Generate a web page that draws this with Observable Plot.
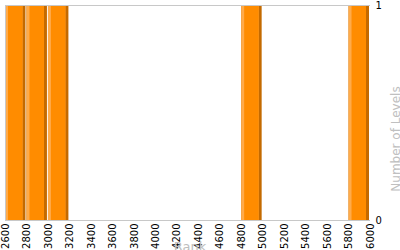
<!DOCTYPE html>
<html>
<head>
<meta charset="utf-8">
<script src="https://cdn.jsdelivr.net/npm/d3@7"></script>
<script src="https://cdn.jsdelivr.net/npm/@observablehq/plot@0.6"></script>
<style>
  html, body { margin: 0; padding: 0; background: #fff; }
  #chart svg { display: block; font-family: "DejaVu Sans", Verdana, sans-serif; }
</style>
</head>
<body>
<div id="chart"></div>
<script>
// Rank bins (start, end) and level counts
const binStart = [2600, 2800, 3000, 4800, 5800];
const binEnd   = [2800, 3000, 3200, 5000, 6000];
const counts   = [1, 1, 1, 1, 1];
const xTicks = [2600, 2800, 3000, 3200, 3400, 3600, 3800, 4000, 4200, 4400, 4600, 4800, 5000, 5200, 5400, 5600, 5800, 6000];
const yTicks = [0, 1];
const xLabel = "Rank";
const yLabel = "Number of Levels";

const bins = binStart.map((s, i) => ({x1: s, x2: binEnd[i], y: counts[i]}));

const chart = Plot.plot({
  width: 400,
  height: 250,
  marginLeft: 5,
  marginRight: 30,
  marginTop: 5,
  marginBottom: 30,
  style: {fontSize: "10px", fontFamily: "'DejaVu Sans', Verdana, sans-serif", color: "#000"},
  x: {domain: [2600, 6000]},
  y: {domain: [0, 1]},
  marks: [
    // dark right edge (full bar)
    Plot.rectY(bins, {x1: "x1", x2: "x2", y: "y", fill: "#c46a00", insetRight: 1}),
    // light left highlight
    Plot.rectY(bins, {x1: "x1", x2: "x2", y: "y", fill: "#ffab4a", insetRight: 4}),
    // main orange body
    Plot.rectY(bins, {x1: "x1", x2: "x2", y: "y", fill: "#ff8c00", insetLeft: 3, insetRight: 4}),
    Plot.ruleY([1], {stroke: "#c8c8c8"}),
    Plot.ruleY([0], {stroke: "#c8c8c8"}),
    Plot.ruleX([2600], {stroke: "#c8c8c8"}),
    Plot.axisX({ticks: xTicks, tickRotate: -90, tickSize: 0, tickPadding: 3, label: null, tickFormat: d => String(d)}),
    Plot.axisY({anchor: "right", ticks: yTicks, tickSize: 0, tickPadding: 5, label: null, tickFormat: d => String(d)}),
    Plot.text([xLabel], {frameAnchor: "bottom", lineAnchor: "top", dx: 2, dy: 21, fill: "#bdbdbd", fontSize: 13, text: d => d}),
    Plot.text([yLabel], {frameAnchor: "right", textAnchor: "middle", lineAnchor: "bottom", rotate: -90, dx: 29, dy: 26, fill: "#c0c0c0", fontSize: 12, text: d => d})
  ]
});
document.getElementById("chart").appendChild(chart);
</script>
</body>
</html>
